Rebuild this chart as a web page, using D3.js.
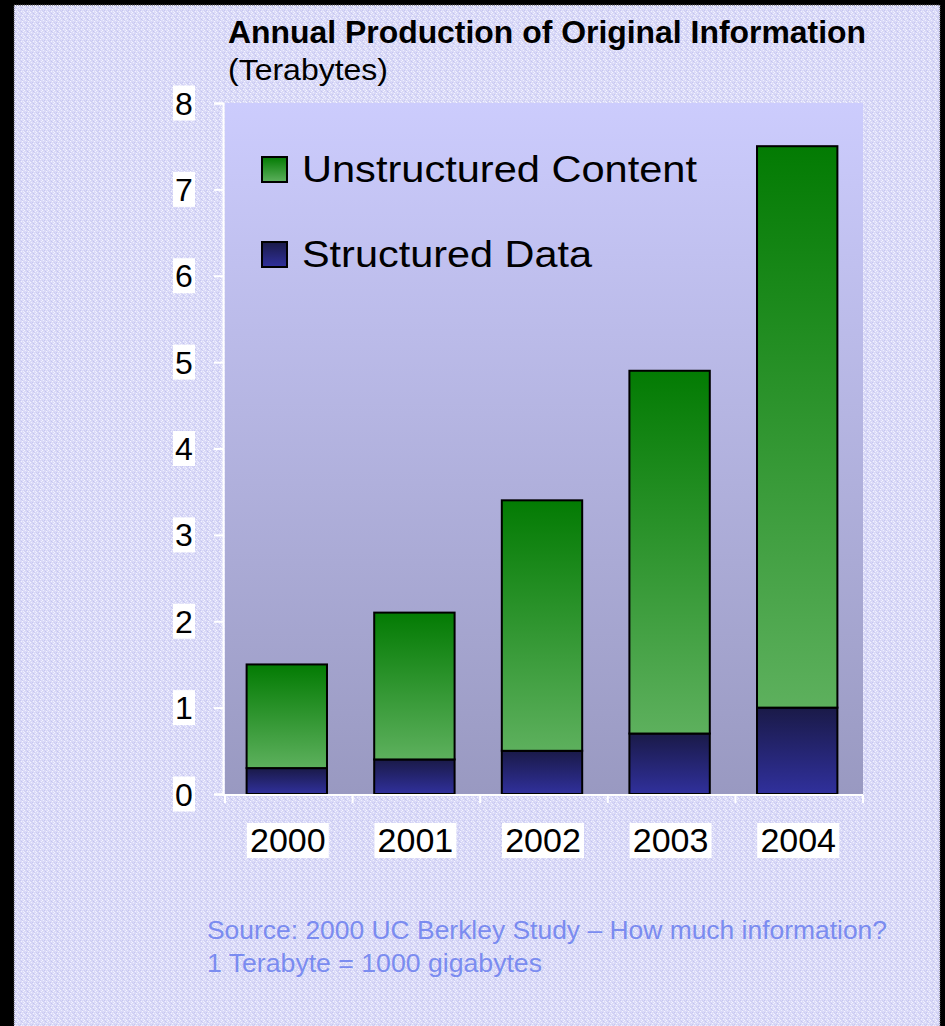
<!DOCTYPE html>
<html>
  <head>
    <meta charset="utf-8" />
    <script src="https://cdn.jsdelivr.net/npm/d3@7"></script>
    <style>
      body { margin: 0; background: #000; }
      svg { display: block; font-family: Arial, "Liberation Sans", sans-serif; }
    </style>
  </head>

  <body>
    <div id="chart"></div>
  </body>

  <script>
    // chart data (terabytes)
    let years = ['2000', '2001', '2002', '2003', '2004']
    let structured = [0.3, 0.4, 0.5, 0.7, 1.0]
    let unstructured = [1.2, 1.7, 2.9, 4.2, 6.5]
    let yTicks = [0, 1, 2, 3, 4, 5, 6, 7, 8]
    let seriesNames = ['Unstructured Content', 'Structured Data']
    let sourceLines = ['Source: 2000 UC Berkley Study \u2013 How much information?', '1 Terabyte = 1000 gigabytes']

    function createChart () {
      let W = 945, H = 1026
      let plot = {left: 225, top: 103, right: 863, bottom: 794}

      let svg = d3.select('#chart').append('svg')
        .attr('width', W)
        .attr('height', H)

      let defs = svg.append('defs')

      // speckled lavender background
      let pat = defs.append('pattern')
        .attr('id', 'speckle')
        .attr('width', 6).attr('height', 6)
        .attr('patternUnits', 'userSpaceOnUse')
      pat.append('rect').attr('width', 6).attr('height', 6).attr('fill', '#dadaf7')
      let dots = [[0,0,'#f4f4ff'],[3,1,'#c2c2ef'],[1,2,'#eeeeff'],[4,3,'#f6f6ff'],[2,4,'#c6c6f1'],[5,5,'#ececff'],[0,4,'#cdcdf3'],[5,1,'#f0f0ff'],[3,5,'#f2f2ff'],[1,5,'#cbcbf2'],[2,0,'#d0d0f4'],[4,2,'#ccccf3']]
      dots.forEach(d => pat.append('rect').attr('x', d[0]).attr('y', d[1]).attr('width', 1).attr('height', 1).attr('fill', d[2]))

      let grad = (id, top, bottom) => {
        let g = defs.append('linearGradient').attr('id', id)
          .attr('x1', 0).attr('y1', 0).attr('x2', 0).attr('y2', 1)
        g.append('stop').attr('offset', '0%').attr('stop-color', top)
        g.append('stop').attr('offset', '100%').attr('stop-color', bottom)
      }
      grad('plotBg', '#ccccfd', '#9999c1')
      grad('green', '#037b03', '#5db05d')
      grad('navy', '#1a1a48', '#30309c')

      // frame
      svg.append('rect').attr('width', W).attr('height', H).attr('fill', '#000')
      svg.append('rect')
        .attr('x', 14).attr('y', 5).attr('width', 926).attr('height', H)
        .attr('fill', 'url(#speckle)')
        .attr('stroke', '#555').attr('stroke-width', 1).attr('stroke-dasharray', '1,1')

      // titles
      svg.append('text')
        .attr('x', 228).attr('y', 43)
        .attr('font-size', 31).attr('font-weight', 'bold')
        .attr('textLength', 638).attr('lengthAdjust', 'spacingAndGlyphs')
        .text('Annual Production of Original Information')
      svg.append('text')
        .attr('x', 228).attr('y', 80)
        .attr('font-size', 30)
        .attr('textLength', 160).attr('lengthAdjust', 'spacingAndGlyphs')
        .text('(Terabytes)')

      // scales
      let x = d3.scaleBand().domain(years).range([plot.left - 2, plot.right - 2]).paddingInner(0.37).paddingOuter(0.185)
      let xBand = d3.scaleBand().domain(years).range([plot.left, plot.right])
      let y = d3.scaleLinear().domain([0, 8]).range([plot.bottom, plot.top])

      // plot area
      svg.append('rect')
        .attr('x', plot.left).attr('y', plot.top)
        .attr('width', plot.right - plot.left).attr('height', plot.bottom - plot.top)
        .attr('fill', 'url(#plotBg)')

      // stacked data
      let rows = years.map((yr, i) => ({year: yr, structured: structured[i], unstructured: unstructured[i]}))
      let stack = d3.stack().keys(['structured', 'unstructured'])(rows)
      let fills = {structured: 'url(#navy)', unstructured: 'url(#green)'}

      svg.append('g').selectAll('g')
        .data(stack)
        .enter().append('g')
        .attr('fill', d => fills[d.key])
        .selectAll('rect')
        .data(d => d)
        .enter().append('rect')
          .attr('x', d => x(d.data.year))
          .attr('y', d => y(d[1]))
          .attr('width', x.bandwidth())
          .attr('height', d => y(d[0]) - y(d[1]))
          .attr('stroke', '#000')
          .attr('stroke-width', 2)

      // y axis
      let yAxis = svg.append('g')
        .attr('transform', 'translate(' + (plot.left - 2) + ',0)')
        .call(d3.axisLeft(y).tickValues(yTicks).tickSize(9).tickPadding(0).tickFormat(d3.format('d')))
      yAxis.select('.domain').attr('stroke', '#fff').attr('stroke-width', 2)
      yAxis.selectAll('.tick line').attr('stroke', '#fff').attr('stroke-width', 2)
      yAxis.selectAll('.tick text').remove()
      let yLab = yAxis.selectAll('.tick').append('g').attr('transform', 'translate(-39,0)')
      yLab.append('rect').attr('x', -11).attr('y', -18).attr('width', 22).attr('height', 35).attr('fill', '#fff')
      yLab.append('text')
        .attr('text-anchor', 'middle').attr('y', 11)
        .attr('font-size', 32).attr('fill', '#000')
        .text(d => d)

      // x axis
      let xAxis = svg.append('g')
        .attr('transform', 'translate(0,' + (plot.bottom + 1) + ')')
        .call(d3.axisBottom(xBand).tickSize(0).tickFormat(''))
      xAxis.select('.domain').attr('stroke', '#fff').attr('stroke-width', 2)
        .attr('d', 'M' + (plot.left - 3) + ',0H' + plot.right)
      // boundary ticks between categories
      let bounds = years.map(yr => xBand(yr)).concat([plot.right])
      xAxis.selectAll('.bound').data(bounds).enter().append('line')
        .attr('x1', d => d).attr('x2', d => d)
        .attr('y1', 0).attr('y2', 8)
        .attr('stroke', '#fff').attr('stroke-width', 2)
      let xLab = xAxis.selectAll('.tick').append('g').attr('transform', 'translate(-1,45)')
      xLab.append('rect').attr('x', -41).attr('y', -17).attr('width', 82).attr('height', 35).attr('fill', '#fff')
      xLab.append('text')
        .attr('text-anchor', 'middle').attr('y', 12)
        .attr('font-size', 34).attr('fill', '#000')
        .text(d => d)

      // legend
      let legendWidths = [395, 290]
      let legend = svg.append('g').selectAll('g')
        .data(seriesNames)
        .enter().append('g')
        .attr('transform', (d, i) => 'translate(262,' + (157 + i * 85) + ')')
      legend.append('rect')
        .attr('width', 25).attr('height', 25)
        .attr('fill', (d, i) => i === 0 ? 'url(#green)' : 'url(#navy)')
        .attr('stroke', '#000').attr('stroke-width', 2)
      legend.append('text')
        .attr('x', 40).attr('y', 25)
        .attr('font-size', 36)
        .attr('textLength', (d, i) => legendWidths[i]).attr('lengthAdjust', 'spacingAndGlyphs')
        .text(d => d)

      // source note
      let sourceWidths = [680, 335]
      svg.append('g').selectAll('text')
        .data(sourceLines)
        .enter().append('text')
        .attr('x', 207).attr('y', (d, i) => 939 + i * 33)
        .attr('font-size', 25)
        .attr('fill', '#7b8cf0')
        .attr('textLength', (d, i) => sourceWidths[i]).attr('lengthAdjust', 'spacingAndGlyphs')
        .text(d => d)
    }

    createChart()
  </script>
</html>
